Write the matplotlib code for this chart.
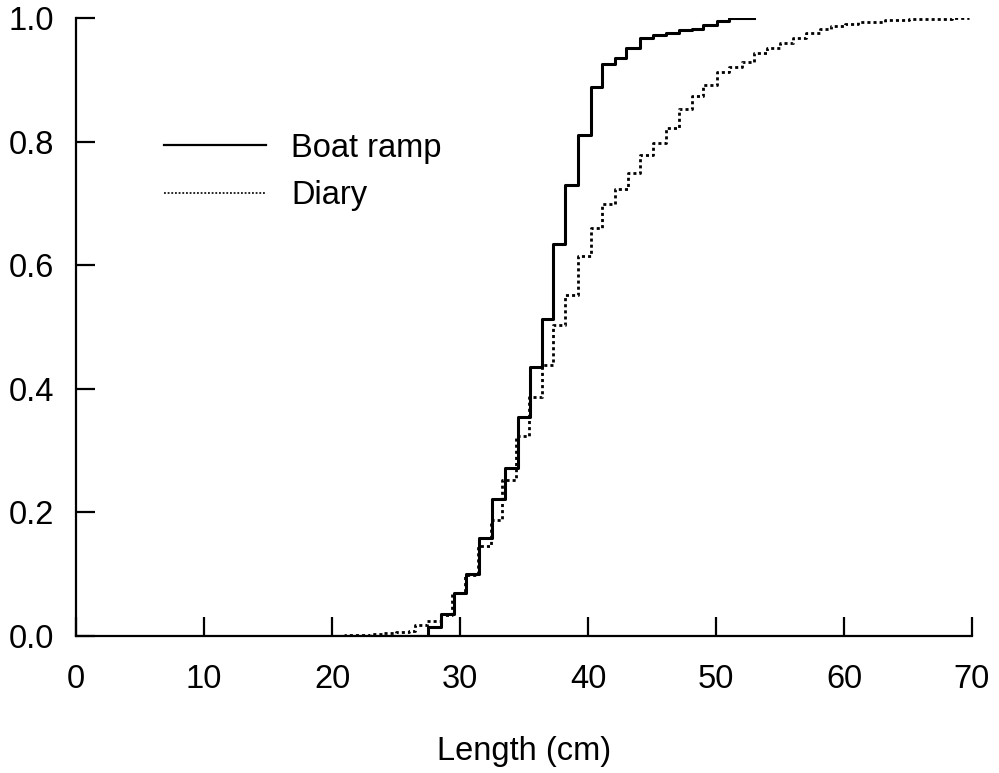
import matplotlib
matplotlib.use("Agg")
import matplotlib.pyplot as plt

plt.rcParams['font.family'] = ['Liberation Sans', 'DejaVu Sans']

# cumulative length distributions (steps-post)
ramp_len = [20.0, 27.5, 28.5, 29.5, 30.5, 31.5, 32.5, 33.5, 34.5, 35.5, 36.4,
            37.3, 38.2, 39.2, 40.2, 41.1, 42.1, 43.0, 44.1, 45.1, 46.1, 47.1,
            48.1, 49.0, 50.1, 51.0, 53.0]
ramp_cum = [0.0, 0.014, 0.036, 0.069, 0.100, 0.159, 0.222, 0.272, 0.354, 0.436,
            0.513, 0.635, 0.730, 0.811, 0.889, 0.925, 0.936, 0.952, 0.967, 0.973,
            0.976, 0.980, 0.983, 0.988, 0.995, 1.0, 1.0]

diary_len = [20.0, 21.0, 22.0, 23.0, 24.0, 25.0, 26.0, 26.5, 27.4, 28.5, 29.4,
             30.4, 31.4, 32.4, 33.3, 34.4, 35.4, 36.4, 37.3, 38.2, 39.2, 40.2,
             41.1, 42.1, 43.1, 44.1, 45.1, 46.1, 47.1, 48.1, 49.0, 50.1, 51.0,
             52.0, 53.0, 54.0, 55.0, 56.0, 57.0, 58.1, 59.0, 60.1, 61.1, 63.2,
             65.1, 68.4, 69.8]
diary_cum = [0.0, 0.001, 0.002, 0.003, 0.005, 0.007, 0.008, 0.018, 0.024, 0.034,
             0.070, 0.098, 0.145, 0.188, 0.252, 0.323, 0.386, 0.438, 0.503, 0.551,
             0.615, 0.660, 0.699, 0.724, 0.749, 0.778, 0.797, 0.822, 0.853, 0.874,
             0.891, 0.912, 0.920, 0.929, 0.943, 0.952, 0.959, 0.968, 0.976, 0.983,
             0.987, 0.991, 0.993, 0.996, 0.998, 1.0, 1.0]

xticks = [0, 10, 20, 30, 40, 50, 60, 70]
yticks = [0.0, 0.2, 0.4, 0.6, 0.8, 1.0]

fig = plt.figure(figsize=(9.99, 7.73), dpi=100)
ax = fig.add_axes([76/999, 1 - 636/773, (972 - 76)/999, (636 - 18)/773])

ax.plot(ramp_len, ramp_cum, drawstyle='steps-post', color='black', lw=2.2,
        label='Boat ramp')
ax.plot(diary_len, diary_cum, drawstyle='steps-post', color='black', lw=2.0,
        linestyle=(0, (1.1, 1.1)), label='Diary')

ax.set_xlim(0, 70)
ax.set_ylim(0, 1.0)
ax.set_xticks(xticks)
ax.set_yticks(yticks)
ax.set_yticklabels(['%.1f' % v for v in yticks])

for s in ['top', 'right']:
    ax.spines[s].set_visible(False)
for s in ['left', 'bottom']:
    ax.spines[s].set_linewidth(1.6)

ax.tick_params(axis='both', direction='in', length=14, width=1.6,
               labelsize=23.5)
ax.tick_params(axis='x', pad=20)
ax.tick_params(axis='y', pad=16)

ax.set_xlabel('Length (cm)', fontsize=23.5, labelpad=30)

leg = ax.legend(loc='upper left', bbox_to_anchor=(0.065, 0.862), frameon=False,
                fontsize=23.5, handlelength=3.13, handletextpad=0.77,
                labelspacing=0.5)
leg.get_lines()[0].set_linewidth(1.6)
leg.get_lines()[1].set_linewidth(1.2)

fig.savefig('out.png', dpi=100)
